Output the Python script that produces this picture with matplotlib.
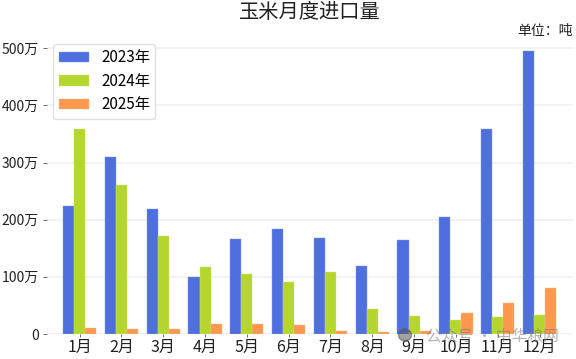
import numpy as np
import matplotlib
matplotlib.use('Agg')
import matplotlib.pyplot as plt
from matplotlib.patches import Ellipse

plt.rcParams['font.family'] = ['Noto Sans CJK SC', 'DejaVu Sans']

months = ['1月', '2月', '3月', '4月', '5月', '6月', '7月', '8月', '9月', '10月', '11月', '12月']
y2023 = [224, 309, 219, 100, 166, 184, 168, 119, 165, 204, 359, 495]
y2024 = [359, 260, 171, 117, 105, 91, 109, 43, 31, 25, 29, 34]
y2025 = [10, 8, 8, 18, 18, 16, 6, 3, 5, 36, 55, 80]
yticks = [0, 100, 200, 300, 400, 500]
ylabels = ['0', '100万', '200万', '300万', '400万', '500万']

W, H = 576, 359
fig = plt.figure(figsize=(W / 100, H / 100), dpi=100)
ax = fig.add_axes([47 / W, 1 - 334 / H, (573 - 47) / W, (334 - 34) / H])

x = np.arange(len(months))
w = 0.265
ax.bar(x - w, y2023, w, color='#4f6fdf', edgecolor='#8098e8', linewidth=0.3, label='2023年', zorder=2)
ax.bar(x, y2024, w, color='#b5d62f', edgecolor='#cfe470', linewidth=0.3, label='2024年', zorder=2)
ax.bar(x + w, y2025, w, color='#ff984f', edgecolor='#ffb98a', linewidth=0.3, label='2025年', zorder=2)

ax.set_xlim(-0.78, 11.8)
ax.set_ylim(0, 525)
ax.set_xticks(x, months, fontsize=11.5)
ax.set_yticks(yticks, ylabels, fontsize=10)
ax.tick_params(axis='x', length=2, width=0.6, pad=1.5, color='#555555', colors='#222222')
ax.tick_params(axis='y', length=3, width=0.6, pad=3, color='#555555', colors='#222222')
ax.grid(axis='y', color='#f0f0f0', linewidth=1.2, zorder=0)
ax.set_axisbelow(True)
for s in ax.spines.values():
    s.set_visible(False)

ax.legend(loc='upper left', bbox_to_anchor=(0.012, 0.967), borderaxespad=0, fontsize=11,
          framealpha=0.9, edgecolor='#dddddd', handlelength=1.96, labelspacing=0.42,
          borderpad=0.36, handletextpad=0.8)

fig.text(310 / W, 1 - 12 / H, '玉米月度进口量', ha='center', va='center', fontsize=14.6, color='#222222')
fig.text(573 / W, 1 - 31.5 / H, '单位：吨', ha='right', va='center', fontsize=10, color='#222222')

# watermark
fig.add_artist(Ellipse((405 / W, 1 - 335 / H), 13 / W, 12 / H, transform=fig.transFigure,
                       color='#555555', alpha=0.55, zorder=5))
fig.text(426 / W, 1 - 336 / H, '公众号 · 中华粮网', ha='left', va='center', fontsize=11.3,
         color='#777777', alpha=0.55, zorder=5)

fig.savefig('out.png', dpi=100)
